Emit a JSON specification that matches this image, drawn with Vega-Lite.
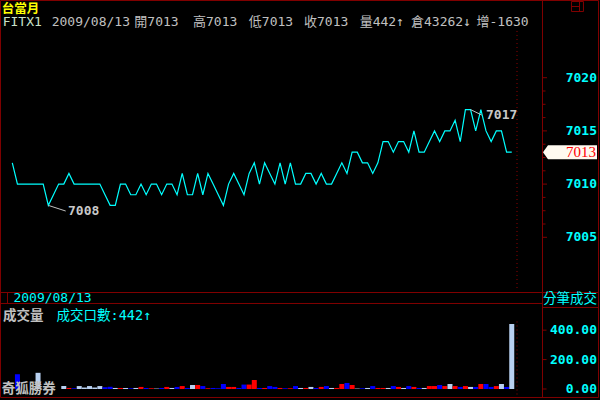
{
  "$schema": "https://vega.github.io/schema/vega-lite/v6.json",
  "width": 542,
  "height": 400,
  "padding": {"left": 0, "top": 0, "right": 58, "bottom": 0},
  "autosize": {"type": "none"},
  "background": "#000000",
  "config": {"view": {"stroke": null}},
  "data": {"values": [
    {"i":0,"p":7012,"v":0,"d":"f"},{"i":1,"p":7010,"v":100,"d":"d"},{"i":2,"p":7010,"v":0,"d":"f"},{"i":3,"p":7010,"v":0,"d":"f"},
    {"i":4,"p":7010,"v":0,"d":"f"},{"i":5,"p":7010,"v":110,"d":"f"},{"i":6,"p":7010,"v":0,"d":"f"},{"i":7,"p":7008,"v":0,"d":"d"},
    {"i":8,"p":7009,"v":0,"d":"u"},{"i":9,"p":7010,"v":0,"d":"u"},{"i":10,"p":7010,"v":20,"d":"f"},{"i":11,"p":7011,"v":7,"d":"u"},
    {"i":12,"p":7010,"v":5,"d":"d"},{"i":13,"p":7010,"v":20,"d":"f"},{"i":14,"p":7010,"v":10,"d":"f"},{"i":15,"p":7010,"v":20,"d":"f"},
    {"i":16,"p":7010,"v":10,"d":"f"},{"i":17,"p":7010,"v":20,"d":"f"},{"i":18,"p":7009,"v":12,"d":"d"},{"i":19,"p":7008,"v":15,"d":"d"},
    {"i":20,"p":7008,"v":7,"d":"f"},{"i":21,"p":7010,"v":7,"d":"u"},{"i":22,"p":7010,"v":7,"d":"f"},{"i":23,"p":7009,"v":5,"d":"d"},
    {"i":24,"p":7009,"v":7,"d":"f"},{"i":25,"p":7010,"v":14,"d":"u"},{"i":26,"p":7009,"v":7,"d":"d"},{"i":27,"p":7010,"v":5,"d":"u"},
    {"i":28,"p":7010,"v":3,"d":"f"},{"i":29,"p":7009,"v":7,"d":"d"},{"i":30,"p":7010,"v":14,"d":"u"},{"i":31,"p":7010,"v":7,"d":"f"},
    {"i":32,"p":7009,"v":14,"d":"d"},{"i":33,"p":7011,"v":20,"d":"u"},{"i":34,"p":7009,"v":7,"d":"d"},{"i":35,"p":7009,"v":27,"d":"f"},
    {"i":36,"p":7011,"v":27,"d":"u"},{"i":37,"p":7009,"v":20,"d":"d"},{"i":38,"p":7011,"v":5,"d":"u"},{"i":39,"p":7010,"v":7,"d":"d"},
    {"i":40,"p":7009,"v":5,"d":"d"},{"i":41,"p":7008,"v":34,"d":"d"},{"i":42,"p":7010,"v":14,"d":"u"},{"i":43,"p":7011,"v":14,"d":"u"},
    {"i":44,"p":7010,"v":7,"d":"d"},{"i":45,"p":7009,"v":30,"d":"d"},{"i":46,"p":7011,"v":30,"d":"u"},{"i":47,"p":7012,"v":61,"d":"u"},
    {"i":48,"p":7010,"v":7,"d":"d"},{"i":49,"p":7012,"v":7,"d":"u"},{"i":50,"p":7011,"v":20,"d":"d"},{"i":51,"p":7010,"v":14,"d":"d"},
    {"i":52,"p":7012,"v":7,"d":"u"},{"i":53,"p":7010,"v":5,"d":"d"},{"i":54,"p":7012,"v":5,"d":"u"},{"i":55,"p":7010,"v":20,"d":"d"},
    {"i":56,"p":7010,"v":7,"d":"f"},{"i":57,"p":7011,"v":7,"d":"u"},{"i":58,"p":7011,"v":14,"d":"f"},{"i":59,"p":7010,"v":7,"d":"d"},
    {"i":60,"p":7011,"v":14,"d":"u"},{"i":61,"p":7010,"v":20,"d":"d"},{"i":62,"p":7010,"v":7,"d":"f"},{"i":63,"p":7011,"v":7,"d":"u"},
    {"i":64,"p":7012,"v":34,"d":"u"},{"i":65,"p":7011,"v":41,"d":"d"},{"i":66,"p":7013,"v":27,"d":"u"},{"i":67,"p":7013,"v":3,"d":"f"},
    {"i":68,"p":7012,"v":5,"d":"d"},{"i":69,"p":7012,"v":7,"d":"f"},{"i":70,"p":7011,"v":20,"d":"d"},{"i":71,"p":7012,"v":7,"d":"u"},
    {"i":72,"p":7014,"v":7,"d":"u"},{"i":73,"p":7014,"v":7,"d":"f"},{"i":74,"p":7013,"v":20,"d":"d"},{"i":75,"p":7014,"v":14,"d":"u"},
    {"i":76,"p":7014,"v":7,"d":"f"},{"i":77,"p":7013,"v":20,"d":"d"},{"i":78,"p":7015,"v":14,"d":"u"},{"i":79,"p":7013,"v":7,"d":"d"},
    {"i":80,"p":7013,"v":7,"d":"f"},{"i":81,"p":7014,"v":20,"d":"u"},{"i":82,"p":7015,"v":20,"d":"u"},{"i":83,"p":7014,"v":27,"d":"d"},
    {"i":84,"p":7015,"v":20,"d":"u"},{"i":85,"p":7015,"v":34,"d":"f"},{"i":86,"p":7016,"v":20,"d":"u"},{"i":87,"p":7014,"v":14,"d":"d"},
    {"i":88,"p":7017,"v":20,"d":"u"},{"i":89,"p":7017,"v":14,"d":"f"},{"i":90,"p":7015,"v":14,"d":"d"},{"i":91,"p":7017,"v":34,"d":"u"},
    {"i":92,"p":7015,"v":34,"d":"d"},{"i":93,"p":7014,"v":14,"d":"d"},{"i":94,"p":7015,"v":20,"d":"u"},{"i":95,"p":7015,"v":34,"d":"f"},
    {"i":96,"p":7013,"v":14,"d":"d"},{"i":97,"p":7013,"v":442,"d":"f"}
  ]},
  "resolve": {"scale": {"y": "independent", "color": "independent", "size": "independent"}},
  "layer": [
    {
      "layer": [
        {
          "data": {"values": [
            {"x":-2.2917,"x2":113.847,"y":7027.256,"y2":7027.256},
            {"x":-2.2917,"x2":113.847,"y":6989.944,"y2":6989.944},
            {"x":-2.2917,"x2":-2.2917,"y":7027.256,"y2":6989.944},
            {"x":113.847,"x2":113.847,"y":7027.256,"y2":6989.944},
            {"x":102.971,"x2":102.971,"y":7027.256,"y2":6989.944},
            {"x":-2.2917,"x2":113.847,"y":6999.812,"y2":6999.812},
            {"x":-2.2917,"x2":102.971,"y":6998.779,"y2":6998.779},
            {"x":102.971,"x2":113.847,"y":6998.403,"y2":6998.403},
            {"x":-0.932,"x2":-0.932,"y":6999.812,"y2":6998.779},
            {"x":108.60,"x2":110.93,"y":7027.162,"y2":7027.162},
            {"x":108.60,"x2":110.93,"y":7026.222,"y2":7026.222},
            {"x":108.60,"x2":108.60,"y":7027.162,"y2":7026.222},
            {"x":110.93,"x2":110.93,"y":7027.162,"y2":7026.222},
            {"x":110.157,"x2":110.157,"y":7027.162,"y2":7026.222},
            {"x":108.60,"x2":110.157,"y":7026.692,"y2":7026.692}
          ]},
          "mark": {"type": "rule", "color": "#800000", "strokeWidth": 1},
          "encoding": {
            "x": {"field": "x", "type": "quantitative", "scale": {"domain": [-2.3888, 102.874], "nice": false, "zero": false, "padding": 0}, "axis": null},
            "x2": {"field": "x2"},
            "y": {"field": "y", "type": "quantitative", "scale": {"domain": [6989.709, 7027.303], "nice": false, "zero": false}, "axis": null},
            "y2": {"field": "y2"}
          }
        },
        {
          "data": {"values": [{"m":7018.75},{"m":7017.5},{"m":7016.25},{"m":7013.75},{"m":7012.5},{"m":7011.25},{"m":7008.75},{"m":7007.5},{"m":7006.25}]},
          "mark": {"type": "rule", "color": "#800000", "strokeWidth": 1},
          "encoding": {
            "x": {"datum": 102.971, "type": "quantitative", "scale": {"domain": [-2.3888, 102.874], "nice": false, "zero": false, "padding": 0}, "axis": null},
            "x2": {"datum": 103.554},
            "y": {"field": "m", "type": "quantitative", "scale": {"domain": [6989.709, 7027.303], "nice": false, "zero": false}, "axis": null}
          }
        },
        {
          "data": {"values": [{"t":7005},{"t":7010},{"t":7015},{"t":7020}]},
          "layer": [
            {
              "mark": {"type": "rule", "color": "#800000", "strokeWidth": 1},
              "encoding": {
                "x": {"datum": 102.971, "type": "quantitative", "scale": {"domain": [-2.3888, 102.874], "nice": false, "zero": false, "padding": 0}, "axis": null},
                "x2": {"datum": 103.845},
                "y": {"field": "t", "type": "quantitative", "scale": {"domain": [6989.709, 7027.303], "nice": false, "zero": false}, "axis": null}
              }
            },
            {
              "mark": {"type": "text", "color": "#00ffff", "font": "DejaVu Sans Mono", "fontSize": 13, "fontWeight": "bold", "align": "right", "baseline": "middle"},
              "encoding": {
                "x": {"datum": 113.555, "type": "quantitative", "scale": {"domain": [-2.3888, 102.874], "nice": false, "zero": false, "padding": 0}, "axis": null},
                "y": {"field": "t", "type": "quantitative", "scale": {"domain": [6989.709, 7027.303], "nice": false, "zero": false}, "axis": null},
                "text": {"field": "t", "type": "quantitative", "format": "d"}
              }
            }
          ]
        },
        {
          "data": {"values": [{}]},
          "mark": {"type": "rule", "color": "#900000", "strokeWidth": 1, "strokeDash": [1, 3]},
          "encoding": {
            "x": {"datum": 98.019, "type": "quantitative", "scale": {"domain": [-2.3888, 102.874], "nice": false, "zero": false, "padding": 0}, "axis": null},
            "y": {"datum": 7024.39, "type": "quantitative", "scale": {"domain": [6989.709, 7027.303], "nice": false, "zero": false}, "axis": null},
            "y2": {"datum": 6999.95}
          }
        },
        {
          "mark": {"type": "line", "color": "#00ffff", "strokeWidth": 1.2},
          "encoding": {
            "x": {"field": "i", "type": "quantitative", "scale": {"domain": [-2.3888, 102.874], "nice": false, "zero": false, "padding": 0}, "axis": null},
            "y": {"field": "p", "type": "quantitative", "scale": {"domain": [6989.709, 7027.303], "nice": false, "zero": false}, "axis": null}
          }
        },
        {
          "data": {"values": [
            {"x":7,"y":7008,"x2":10.37,"y2":7007.47},
            {"x":89,"y":7017,"x2":91.16,"y2":7016.495}
          ]},
          "mark": {"type": "rule", "color": "#c0c0c0", "strokeWidth": 1},
          "encoding": {
            "x": {"field": "x", "type": "quantitative", "scale": {"domain": [-2.3888, 102.874], "nice": false, "zero": false, "padding": 0}, "axis": null},
            "x2": {"field": "x2"},
            "y": {"field": "y", "type": "quantitative", "scale": {"domain": [6989.709, 7027.303], "nice": false, "zero": false}, "axis": null},
            "y2": {"field": "y2"}
          }
        },
        {
          "data": {"values": [
            {"t":"7008","x":10.817,"y":7007.472},
            {"t":"7017","x":91.998,"y":7016.495}
          ]},
          "mark": {"type": "text", "color": "#c8c8c8", "font": "DejaVu Sans Mono", "fontSize": 13, "fontWeight": "bold", "align": "left", "baseline": "middle"},
          "encoding": {
            "x": {"field": "x", "type": "quantitative", "scale": {"domain": [-2.3888, 102.874], "nice": false, "zero": false, "padding": 0}, "axis": null},
            "y": {"field": "y", "type": "quantitative", "scale": {"domain": [6989.709, 7027.303], "nice": false, "zero": false}, "axis": null},
            "text": {"field": "t"}
          }
        },
        {
          "data": {"values": [{}]},
          "mark": {"type": "point", "shape": "M-1,0L-0.815,-0.26L1,-0.26L1,0.26L-0.815,0.26Z", "size": 2916, "filled": true, "color": "#fffaf0", "opacity": 1, "strokeWidth": 0},
          "encoding": {
            "x": {"datum": 108.31, "type": "quantitative", "scale": {"domain": [-2.3888, 102.874], "nice": false, "zero": false, "padding": 0}, "axis": null},
            "y": {"datum": 7013, "type": "quantitative", "scale": {"domain": [6989.709, 7027.303], "nice": false, "zero": false}, "axis": null}
          }
        },
        {
          "data": {"values": [{"t": "7013"}]},
          "mark": {"type": "text", "color": "#ff0000", "font": "Liberation Serif", "fontSize": 15, "align": "right", "baseline": "middle"},
          "encoding": {
            "x": {"datum": 113.36, "type": "quantitative", "scale": {"domain": [-2.3888, 102.874], "nice": false, "zero": false, "padding": 0}, "axis": null},
            "y": {"datum": 7013, "type": "quantitative", "scale": {"domain": [6989.709, 7027.303], "nice": false, "zero": false}, "axis": null},
            "text": {"field": "t"}
          }
        },
        {
          "data": {"values": [{"t": "台當月", "x": -2.059, "y": 7026.5}]},
          "mark": {"type": "text", "color": "#ffff00", "font": "DejaVu Sans, Noto Sans CJK TC", "fontSize": 12.5, "fontWeight": "bold", "align": "left", "baseline": "middle"},
          "encoding": {
            "x": {"field": "x", "type": "quantitative", "scale": {"domain": [-2.3888, 102.874], "nice": false, "zero": false, "padding": 0}, "axis": null},
            "y": {"field": "y", "type": "quantitative", "scale": {"domain": [6989.709, 7027.303], "nice": false, "zero": false}, "axis": null},
            "text": {"field": "t"}
          }
        },
        {
          "data": {"values": [{"t":"FITX1","x":-1.864,"y":7025.2}]},
          "mark": {"type": "text", "color": "#c8e0c8", "font": "DejaVu Sans Mono", "fontSize": 13, "align": "left", "baseline": "middle"},
          "encoding": {
            "x": {"field": "x", "type": "quantitative", "scale": {"domain": [-2.3888, 102.874], "nice": false, "zero": false, "padding": 0}, "axis": null},
            "y": {"field": "y", "type": "quantitative", "scale": {"domain": [6989.709, 7027.303], "nice": false, "zero": false}, "axis": null},
            "text": {"field": "t"}
          }
        },
        {
          "data": {"values": [
            {"t":"2009/08/13","x":7.652,"y":7025.2},
            {"t":"開7013","x":23.7,"y":7025.2},
            {"t":"高7013","x":35.094,"y":7025.2},
            {"t":"低7013","x":45.931,"y":7025.2},
            {"t":"收7013","x":56.652,"y":7025.2},
            {"t":"量442↑","x":67.469,"y":7025.2},
            {"t":"倉43262↓","x":77.432,"y":7025.2},
            {"t":"增-1630","x":90.153,"y":7025.2}
          ]},
          "mark": {"type": "text", "color": "#c0c0c0", "font": "DejaVu Sans Mono, Noto Sans CJK TC", "fontSize": 13, "align": "left", "baseline": "middle"},
          "encoding": {
            "x": {"field": "x", "type": "quantitative", "scale": {"domain": [-2.3888, 102.874], "nice": false, "zero": false, "padding": 0}, "axis": null},
            "y": {"field": "y", "type": "quantitative", "scale": {"domain": [6989.709, 7027.303], "nice": false, "zero": false}, "axis": null},
            "text": {"field": "t"}
          }
        }
      ]
    },
    {
      "layer": [
        {
          "transform": [{"filter": "datum.v > 0"}],
          "mark": {"type": "bar"},
          "encoding": {
            "x": {"field": "i", "type": "quantitative", "scale": {"domain": [-2.3888, 102.874], "nice": false, "zero": false, "padding": 0}, "axis": null},
            "y": {"field": "v", "type": "quantitative", "stack": null, "scale": {"domain": [-74.8, 2644.5], "nice": false, "zero": false}, "axis": null},
            "color": {"field": "d", "type": "nominal", "scale": {"domain": ["u", "d", "f"], "range": ["#ff0000", "#0000ff", "#b8d0f0"]}, "legend": null},
            "size": {"field": "d", "type": "ordinal", "scale": {"domain": ["u", "d", "f"], "range": [5, 5, 3]}, "legend": null}
          }
        },
        {
          "data": {"values": [{"t":0},{"t":200},{"t":400}]},
          "layer": [
            {
              "mark": {"type": "rule", "color": "#800000", "strokeWidth": 1},
              "encoding": {
                "x": {"datum": 102.971, "type": "quantitative", "scale": {"domain": [-2.3888, 102.874], "nice": false, "zero": false, "padding": 0}, "axis": null},
                "x2": {"datum": 103.748},
                "y": {"field": "t", "type": "quantitative", "scale": {"domain": [-74.8, 2644.5], "nice": false, "zero": false}, "axis": null}
              }
            },
            {
              "mark": {"type": "text", "color": "#00ffff", "font": "DejaVu Sans Mono", "fontSize": 13, "fontWeight": "bold", "align": "right", "baseline": "middle"},
              "encoding": {
                "x": {"datum": 113.555, "type": "quantitative", "scale": {"domain": [-2.3888, 102.874], "nice": false, "zero": false, "padding": 0}, "axis": null},
                "y": {"field": "t", "type": "quantitative", "scale": {"domain": [-74.8, 2644.5], "nice": false, "zero": false}, "axis": null},
                "text": {"field": "t", "type": "quantitative", "format": ".2f"}
              }
            }
          ]
        },
        {
          "data": {"values": [{}]},
          "mark": {"type": "rule", "color": "#900000", "strokeWidth": 1, "strokeDash": [1, 3]},
          "encoding": {
            "x": {"datum": 98.019, "type": "quantitative", "scale": {"domain": [-2.3888, 102.874], "nice": false, "zero": false, "padding": 0}, "axis": null},
            "y": {"datum": 458.9, "type": "quantitative", "scale": {"domain": [-74.8, 2644.5], "nice": false, "zero": false}, "axis": null},
            "y2": {"datum": -47.6}
          }
        },
        {
          "data": {"values": [
            {"t":"2009/08/13","x":0.214,"y":620}
          ]},
          "mark": {"type": "text", "color": "#00ffff", "font": "DejaVu Sans Mono", "fontSize": 13, "align": "left", "baseline": "middle"},
          "encoding": {
            "x": {"field": "x", "type": "quantitative", "scale": {"domain": [-2.3888, 102.874], "nice": false, "zero": false, "padding": 0}, "axis": null},
            "y": {"field": "y", "type": "quantitative", "scale": {"domain": [-74.8, 2644.5], "nice": false, "zero": false}, "axis": null},
            "text": {"field": "t"}
          }
        },
        {
          "data": {"values": [
            {"t":"分筆成交","x":103.07,"y":613},
            {"t":"成交口數:442↑","x":8.60,"y":498}
          ]},
          "mark": {"type": "text", "color": "#00ffff", "font": "DejaVu Sans Mono, Noto Sans CJK TC", "fontSize": 13.5, "align": "left", "baseline": "middle"},
          "encoding": {
            "x": {"field": "x", "type": "quantitative", "scale": {"domain": [-2.3888, 102.874], "nice": false, "zero": false, "padding": 0}, "axis": null},
            "y": {"field": "y", "type": "quantitative", "scale": {"domain": [-74.8, 2644.5], "nice": false, "zero": false}, "axis": null},
            "text": {"field": "t"}
          }
        },
        {
          "data": {"values": [
            {"t":"成交量","x":-1.806,"y":498},
            {"t":"奇狐勝券","x":-2.059,"y":-3.4}
          ]},
          "mark": {"type": "text", "color": "#c0c0c0", "font": "Noto Sans CJK TC", "fontSize": 13.5, "fontWeight": "bold", "align": "left", "baseline": "middle"},
          "encoding": {
            "x": {"field": "x", "type": "quantitative", "scale": {"domain": [-2.3888, 102.874], "nice": false, "zero": false, "padding": 0}, "axis": null},
            "y": {"field": "y", "type": "quantitative", "scale": {"domain": [-74.8, 2644.5], "nice": false, "zero": false}, "axis": null},
            "text": {"field": "t"}
          }
        }
      ]
    }
  ]
}
